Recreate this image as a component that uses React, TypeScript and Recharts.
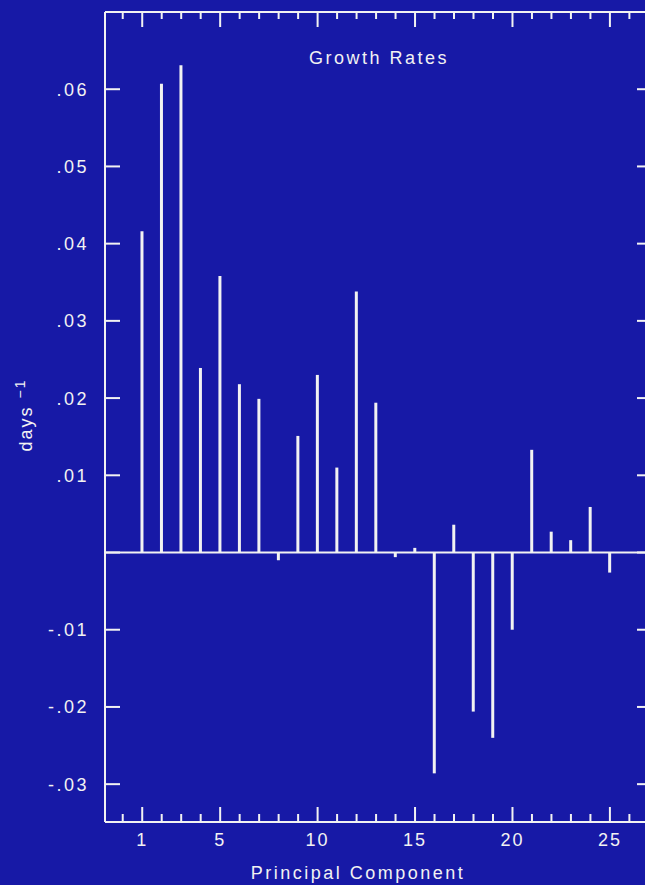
import { ComposedChart, Bar, XAxis, YAxis, ReferenceLine } from 'recharts';

// principal component index and its growth rate (days^-1)
const components = [1, 2, 3, 4, 5, 6, 7, 8, 9, 10, 11, 12, 13, 14, 15, 16, 17, 18, 19, 20, 21, 22, 23, 24, 25];
const growthRates = [
  0.0416, 0.0607, 0.0631, 0.0239, 0.0358, 0.0218, 0.0199, -0.001, 0.0151, 0.023, 0.011, 0.0338, 0.0194,
  -0.0006, 0.0006, -0.0286, 0.0036, -0.0206, -0.024, -0.01, 0.0133, 0.0027, 0.0016, 0.0059, -0.0026,
];

const xTicks = [0, 1, 2, 3, 4, 5, 6, 7, 8, 9, 10, 11, 12, 13, 14, 15, 16, 17, 18, 19, 20, 21, 22, 23, 24, 25, 26, 27];
const xMajorTicks = [1, 5, 10, 15, 20, 25];
const yTicks = [-0.03, -0.02, -0.01, 0, 0.01, 0.02, 0.03, 0.04, 0.05, 0.06];
const yTickLabels = ['-.03', '-.02', '-.01', '', '.01', '.02', '.03', '.04', '.05', '.06'];

const data = components.map((pc, i) => ({ pc, rate: growthRates[i] }));

const BG = '#1719a6';
const INK = '#f2f2f2';
const FONT = '"Liberation Sans", Arial, sans-serif';

const xDomain: [number, number] = [-0.91, 27.16];
const yDomain: [number, number] = [-0.0349, 0.07];

function BottomTick({ x, y, payload }: any) {
  const major = xMajorTicks.includes(payload.value);
  return (
    <g>
      <line x1={x} x2={x} y1={y} y2={y - (major ? 15 : 8)} stroke={INK} strokeWidth={2} />
      {major && (
        <text x={x} y={y + 24} textAnchor="middle" fill={INK} fontSize={18} fontFamily={FONT} letterSpacing={2}>
          {payload.value}
        </text>
      )}
    </g>
  );
}

function TopTick({ x, y, payload }: any) {
  const major = xMajorTicks.includes(payload.value);
  return <line x1={x} x2={x} y1={y} y2={y + (major ? 15 : 7)} stroke={INK} strokeWidth={2} />;
}

function LeftTick({ x, y, payload }: any) {
  const label = yTickLabels[yTicks.indexOf(payload.value)];
  return (
    <g>
      <line x1={x} x2={x + 15} y1={y} y2={y} stroke={INK} strokeWidth={2} />
      <text x={x - 16} y={y + 6.5} textAnchor="end" fill={INK} fontSize={18} fontFamily={FONT} letterSpacing={2.5}>
        {label}
      </text>
    </g>
  );
}

function RightTick({ x, y }: any) {
  return <line x1={x} x2={x - 15} y1={y} y2={y} stroke={INK} strokeWidth={2} />;
}

export default function App() {
  const axisLine = { stroke: INK, strokeWidth: 2 };
  const textStyle = {
    position: 'absolute' as const,
    color: INK,
    fontFamily: FONT,
    fontSize: 18,
    lineHeight: '18px',
    whiteSpace: 'nowrap' as const,
  };
  return (
    <div style={{ position: 'fixed', left: 0, top: 0, width: 645, height: 885, overflow: 'hidden', background: BG }}>
      <ComposedChart width={700} height={885} data={data} margin={{ top: 0, right: 0, bottom: 0, left: 0 }}>
        <XAxis
          dataKey="pc"
          type="number"
          domain={xDomain}
          allowDataOverflow
          ticks={xTicks}
          interval={0}
          height={63}
          tickSize={0}
          tickMargin={0}
          tickLine={false}
          axisLine={axisLine}
          tick={BottomTick}
        />
        <XAxis
          xAxisId="top"
          orientation="top"
          dataKey="pc"
          type="number"
          domain={xDomain}
          allowDataOverflow
          ticks={xTicks}
          interval={0}
          height={12}
          tickSize={0}
          tickMargin={0}
          tickLine={false}
          axisLine={axisLine}
          tick={TopTick}
        />
        <YAxis
          type="number"
          domain={yDomain}
          allowDataOverflow
          ticks={yTicks}
          interval={0}
          width={105}
          tickSize={0}
          tickMargin={0}
          tickLine={false}
          axisLine={axisLine}
          tick={LeftTick}
        />
        <YAxis
          yAxisId="right"
          orientation="right"
          type="number"
          domain={yDomain}
          allowDataOverflow
          ticks={yTicks}
          interval={0}
          width={48}
          tickSize={0}
          tickMargin={0}
          tickLine={false}
          axisLine={axisLine}
          tick={RightTick}
        />
        <ReferenceLine y={0} stroke={INK} strokeWidth={2} />
        <Bar dataKey="rate" fill={INK} barSize={3} isAnimationActive={false} />
      </ComposedChart>

      <div style={{ ...textStyle, left: 379, top: 49, transform: 'translateX(-50%)', letterSpacing: 2.5 }}>
        Growth Rates
      </div>
      <div style={{ ...textStyle, left: 358, top: 864, transform: 'translateX(-50%)', letterSpacing: 2.5 }}>
        Principal Component
      </div>
      <div
        style={{
          ...textStyle,
          left: 26,
          top: 415,
          transform: 'translate(-50%, -50%) rotate(-90deg)',
          letterSpacing: 2,
        }}
      >
        days <sup style={{ fontSize: 14, verticalAlign: 'top', position: 'relative', top: -6 }}>−1</sup>
      </div>
    </div>
  );
}
